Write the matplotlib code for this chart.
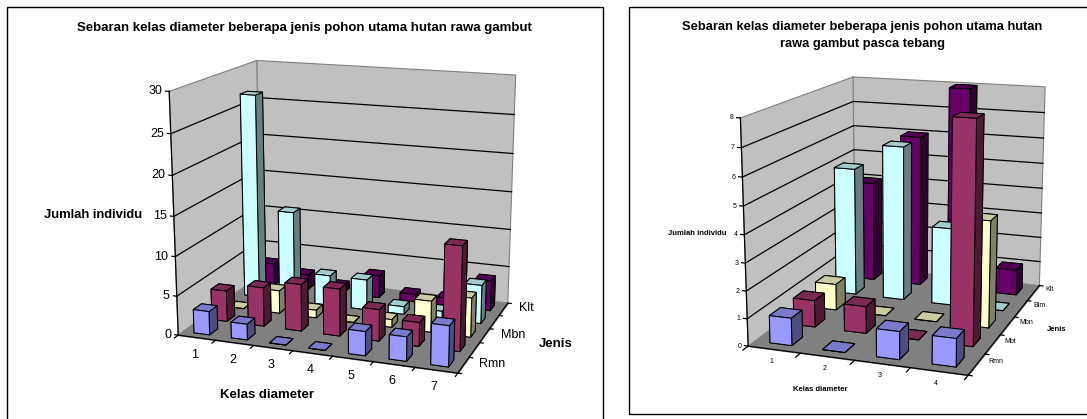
# sebaran kelas diameter, two excel style 3d bar panels
import numpy as np
import matplotlib
matplotlib.use("Agg")
import matplotlib.pyplot as plt
from matplotlib.patches import Rectangle
from matplotlib.transforms import ScaledTranslation
from mpl_toolkits.mplot3d import proj3d
from mpl_toolkits.mplot3d.art3d import Poly3DCollection

plt.rcParams['font.family'] = ['Liberation Sans', 'DejaVu Sans']

W, H = 1087, 419

# data
classes_left = ['1', '2', '3', '4', '5', '6', '7']
classes_right = ['1', '2', '3', '4']
species = ['Rmn', 'Mbt', 'Mbn', 'Blm', 'Klt']
colors = ['#9999FF', '#993366', '#FFFFCC', '#CCFFFF', '#660066']
zticks_left = [0, 5, 10, 15, 20, 25, 30]
zticks_right = [0, 1, 2, 3, 4, 5, 6, 7, 8]

rmn_left = [3, 2, 0, 0, 3, 3, 5]
mbt_left = [4, 5, 6, 6, 4, 3, 13]
mbn_left = [0, 3, 1, 0, 1, 4, 5]
blm_left = [27, 12, 4, 4, 1, 1, 5]
klt_left = [3, 2, 1, 3, 1, 1, 4]

rmn_right = [1, 0, 1, 1]
mbt_right = [1, 1, 0, 8]
mbn_right = [1, 0, 0, 4]
blm_right = [5, 6, 3, 0]
klt_right = [4, 6, 8, 1]


def draw_panel(fig, rect, view, values, xl, zticks, ylabs, fs, xoff, yoff, tick):
    left, bottom, S = rect
    elev, azim, focal, bx, bz = view
    ax = fig.add_axes([left / W, bottom / H, S / W, S / H], projection='3d', computed_zorder=False)
    nx, ny = len(xl), len(species)
    zm = zticks[-1]
    lw = 0.9
    ax.set_axis_off()
    ax.patch.set_visible(False)
    ax.set_xlim(0, nx, view_margin=0)
    ax.set_ylim(0, ny, view_margin=0)
    ax.set_zlim(0, zm, view_margin=0)
    ax.view_init(elev=elev, azim=azim)
    ax.set_proj_type('persp', focal_length=focal)
    ax.set_box_aspect((bx, 1, bz))
    M = ax.get_proj()

    # tick labels are plain 2d text next to the projected tick
    def lab(x, y, z, txt, dx, dy, **kw):
        u, v, _ = proj3d.proj_transform(x, y, z, M)
        off = ScaledTranslation(dx / 100, dy / 100, fig.dpi_scale_trans)
        ax.text2D(u, v, txt, transform=ax.transData + off, fontsize=fs, va='center', clip_on=False, zorder=5, **kw)

    walls = [[(0, 0, 0), (0, ny, 0), (0, ny, zm), (0, 0, zm)],
             [(0, ny, 0), (nx, ny, 0), (nx, ny, zm), (0, ny, zm)]]
    ax.add_collection3d(Poly3DCollection(walls, facecolors='#C0C0C0', edgecolors='#808080', linewidths=0.8, zorder=1))
    floor = [[(0, 0, 0), (nx, 0, 0), (nx, ny, 0), (0, ny, 0)]]
    ax.add_collection3d(Poly3DCollection(floor, facecolors='#808080', edgecolors='#808080', linewidths=0.8, zorder=2))
    for z in zticks[1:-1]:
        ax.plot([0, 0, nx], [0, ny, ny], [z, z, z], color='k', lw=lw, zorder=3)
    ax.plot([0, 0], [0, 0], [0, zm], color='k', lw=lw, zorder=4)
    ax.plot([0, nx, nx], [0, 0, ny], [0, 0, 0], color='k', lw=lw, zorder=4)
    for z in zticks:
        ax.plot([0, -tick], [0, 0], [z, z], color='k', lw=lw, zorder=4)
        lab(0, 0, z, str(z), -7, 0, ha='right')
    for i in range(nx + 1):
        ax.plot([i, i], [0, -0.2], [0, 0], color='k', lw=lw, zorder=4)
    for i, t in enumerate(xl):
        lab(i + 0.5, 0, 0, t, xoff[0], xoff[1], ha='center')
    for j in range(ny + 1):
        ax.plot([nx, nx + tick], [j, j], [0, 0], color='k', lw=lw, zorder=4)
    for j in range(0, ny, ylabs):
        lab(nx, j + 0.5, 0, species[j], yoff[0], yoff[1], ha='left')

    # back row first so that the front bars sit over it
    zo = 10
    for j in range(ny - 1, -1, -1):
        c = np.array(matplotlib.colors.to_rgb(colors[j]))
        top = c * 0.8
        side = c * 0.5
        for i in range(nx):
            ax.bar3d(i + 0.29, j + 0.275, 0, 0.42, 0.45, values[j][i],
                     color=[top, top, c, c, side, side], shade=False,
                     edgecolor='k', linewidth=lw * 0.8, zorder=zo)
            zo += 1


fig = plt.figure(figsize=(W / 100, H / 100), dpi=100, facecolor='white')
fig.add_artist(Rectangle((7 / W, 1 - 430 / H), 595.5 / W, 423 / H, transform=fig.transFigure, fill=False, ec='k', lw=1))
fig.add_artist(Rectangle((628.7 / W, 1 - 414 / H), 480 / W, 407 / H, transform=fig.transFigure, fill=False, ec='k', lw=1))

draw_panel(fig, (135.97, 2.54, 414.43), (15.07, -70.188, 0.569, 1.404, 1.2),
           [rmn_left, mbt_left, mbn_left, blm_left, klt_left], classes_left,
           zticks_left, 2, 9, (-2, -17), (16, 1), 0.09)
draw_panel(fig, (698.57, 3.50, 400.56), (14.438, -70.527, 0.562, 0.794, 0.801),
           [rmn_right, mbt_right, mbn_right, blm_right, klt_right], classes_right,
           zticks_right, 1, 5, (-3, -12), (12, 3), 0.07)


def label(x, y, s, size):
    fig.text(x / W, 1 - y / H, s, fontsize=size, ha='center', va='center', fontweight='bold')


label(304, 28, 'Sebaran kelas diameter beberapa jenis pohon utama hutan rawa gambut', 9.5)
label(93, 215, 'Jumlah individu', 9.35)
label(267, 395, 'Kelas diameter', 9.5)
label(556, 344, 'Jenis', 9.5)
label(862, 27, 'Sebaran kelas diameter beberapa jenis pohon utama hutan', 9.3)
label(863, 44, 'rawa gambut pasca tebang', 9.3)
label(697, 233, 'Jumlah individu', 5.5)
label(820.5, 389, 'Kelas diameter', 5.5)
label(1056.5, 329, 'Jenis', 5.5)

fig.savefig('out.png', dpi=100)
